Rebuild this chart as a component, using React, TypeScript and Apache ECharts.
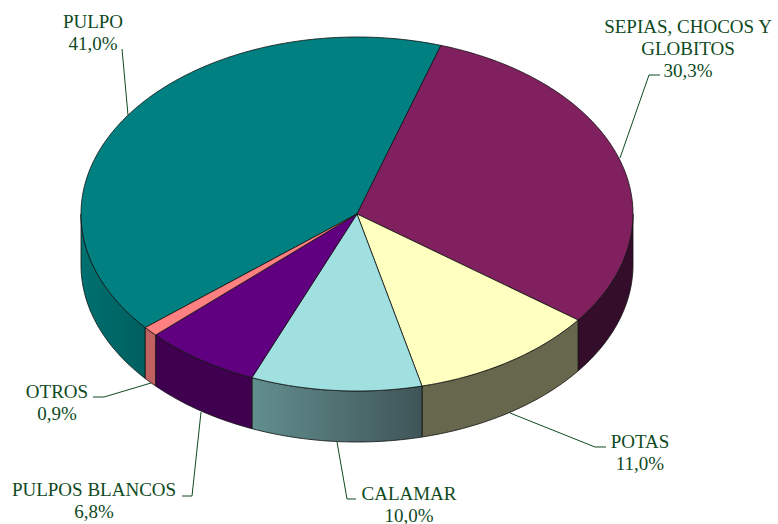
import React, { useEffect, useRef } from "react";
import * as echarts from "echarts";

const categories = ["PULPO", "SEPIAS, CHOCOS Y\nGLOBITOS", "POTAS", "CALAMAR", "PULPOS BLANCOS", "OTROS"];
const shares = [41.0, 30.3, 11.0, 10.0, 6.8, 0.9];
const percentLabels = ["41,0%", "30,3%", "11,0%", "10,0%", "6,8%", "0,9%"];
const topColors = ["#008080", "#80205F", "#FFFFC0", "#A0E0E0", "#600080", "#FF8080"];
const sideColors = ["#006666", "#330D2A", "#67674E", "#4A6A6A", "#3F0050", "#C06060"];

const CX = 357, CY = 214, RX = 276, RY = 177, DEPTH = 51, START = 230.1;
const INK = "#0F4A1E";
const FONT = '"Liberation Serif", serif';

const labelCentres = [[93, 21], [688, 26], [640, 441], [409, 493], [94, 489], [57, 391]];
const leaders = [
  [[122, 49], [128, 115]],
  [[660, 75], [649, 75], [620, 158]],
  [[606, 447], [595, 447], [510, 413]],
  [[356, 499], [347, 499], [337, 442]],
  [[182, 496], [192, 496], [201, 412]],
  [[93, 397], [104, 397], [151, 383]],
];

const pt = (deg: number, dy = 0) => {
  const r = (deg * Math.PI) / 180;
  return [CX + RX * Math.sin(r), CY - RY * Math.cos(r) + dy];
};

const range = (i: number) => {
  let a = START;
  for (let k = 0; k < i; k++) a += (shares[k] * 360) / 100;
  return [a, a + (shares[i] * 360) / 100];
};

const arcPts = (a0: number, a1: number, dy = 0) => {
  const out: number[][] = [];
  const n = Math.max(2, Math.ceil(Math.abs(a1 - a0)));
  for (let i = 0; i <= n; i++) out.push(pt(a0 + ((a1 - a0) * i) / n, dy));
  return out;
};

const sideFill = (i: number): any =>
  i === 3
    ? new echarts.graphic.LinearGradient(0, 0, 1, 0, [
        { offset: 0, color: "#628E8E" },
        { offset: 1, color: "#3F5558" },
      ])
    : i === 0
    ? new echarts.graphic.LinearGradient(0, 0, 1, 0, [
        { offset: 0, color: "#007070" },
        { offset: 1, color: "#005F5F" },
      ])
    : sideColors[i];

const renderSide = (params: any) => {
  const i = params.dataIndex;
  const [a0, a1] = range(i);
  const visible: number[][] = [];
  for (const off of [0, 360]) {
    const s = Math.max(a0, 90 + off);
    const e = Math.min(a1, 270 + off);
    if (e > s) visible.push([s, e]);
  }
  return {
    type: "group",
    children: visible.map(([s, e]) => ({
      type: "polygon",
      shape: { points: [...arcPts(s, e), ...arcPts(e, s, DEPTH)] },
      style: { fill: sideFill(i), stroke: "#111", lineWidth: 0.8 },
    })),
  };
};

const renderTop = (params: any) => {
  const i = params.dataIndex;
  const [a0, a1] = range(i);
  return {
    type: "polygon",
    shape: { points: [[CX, CY], ...arcPts(a0, a1)] },
    style: { fill: topColors[i], stroke: "#111", lineWidth: 0.8 },
  };
};

export default function App() {
  const ref = useRef<HTMLDivElement>(null);
  useEffect(() => {
    if (!ref.current) return;
    const chart = echarts.init(ref.current, undefined, { renderer: "svg", width: 778, height: 524 });
    const graphics: any[] = [];
    categories.forEach((name, i) => {
      const lines = [...name.split("\n"), percentLabels[i]];
      lines.forEach((t, k) => {
        graphics.push({
          type: "text",
          x: labelCentres[i][0],
          y: labelCentres[i][1] + k * 22,
          silent: true,
          style: { text: t, fill: INK, font: `19px ${FONT}`, textAlign: "center", textVerticalAlign: "middle" },
        });
      });
      graphics.push({
        type: "polyline",
        silent: true,
        shape: { points: leaders[i] },
        style: { stroke: INK, lineWidth: 1, fill: "none" },
      });
    });
    chart.setOption({
      animation: false,
      backgroundColor: "#fff",
      series: [
        { type: "custom", coordinateSystem: "none", renderItem: renderSide, data: shares, silent: true, z: 1 },
        { type: "custom", coordinateSystem: "none", renderItem: renderTop, data: shares, silent: true, z: 2 },
      ],
      graphic: graphics,
    });
    return () => chart.dispose();
  }, []);
  return <div ref={ref} style={{ position: "fixed", left: 0, top: 0, width: 778, height: 524 }} />;
}
